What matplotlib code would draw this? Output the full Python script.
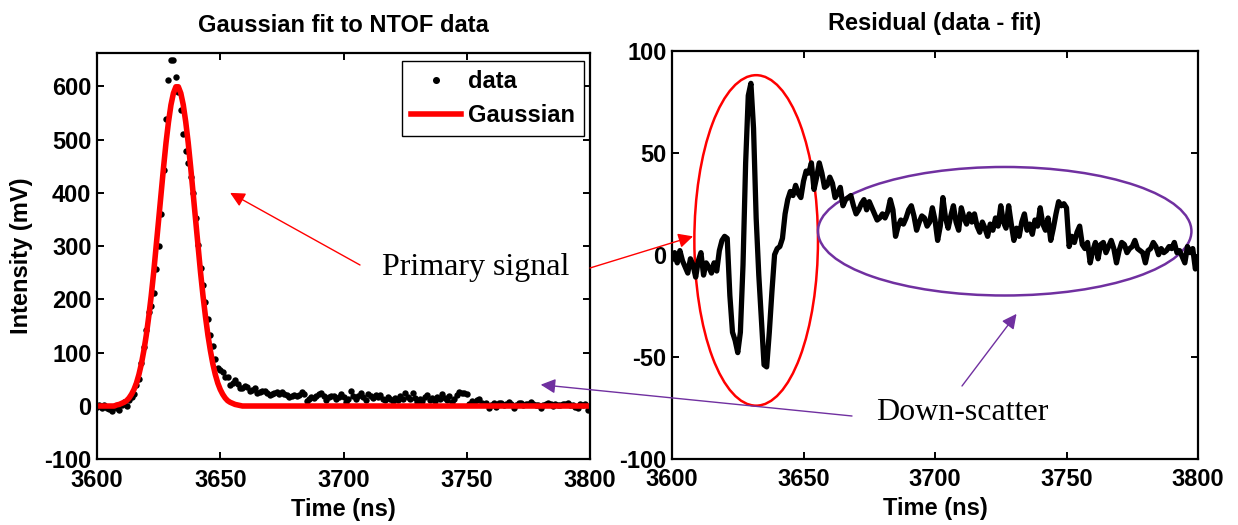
import numpy as np
import matplotlib
matplotlib.use("Agg")
import matplotlib.pyplot as plt
from matplotlib.patches import Ellipse

plt.rcParams['font.family'] = ['Liberation Sans', 'DejaVu Sans']
plt.rcParams['font.weight'] = 'bold'
plt.rcParams['axes.unicode_minus'] = False

# --- data (1 ns steps, 3600..3800 ns) ---
t_start, t_stop = 3600, 3800
time_ns = np.arange(t_start, t_stop + 1)

# Gaussian fit (mV); zero outside 3608..3658
fit_peak = [2, 3, 5, 7, 10, 15, 22, 31, 43, 59, 79, 104, 133, 168, 207, 251,
            299, 349, 399, 448, 494, 533, 565, 587, 599, 599, 587, 565, 533,
            494, 448, 399, 349, 299, 251, 207, 168, 133, 104, 79, 59, 43, 31,
            22, 15, 10, 7, 5, 3, 2, 1]
fit_first = 3608

# residual data - fit (mV)
residual = [
    -2, 1, -4, 2, -3, -6, -9, -2, -5, -11,
    -3, 1, -10, -4, -6, -9, -4, -8, 2, 7,
    9, 8, -20, -38, -42, -48, -38, -5, 45, 78,
    84, 62, 18, -10, -32, -54, -55, -38, -18, 0,
    3, 4, 8, 20, 27, 31, 29, 34, 30, 28,
    36, 41, 40, 45, 32, 38, 45, 40, 33, 34,
    38, 35, 28, 30, 33, 24, 27, 28, 29, 24,
    20, 22, 25, 27, 22, 26, 23, 20, 17, 18,
    20, 18, 21, 27, 22, 9, 14, 17, 15, 18,
    22, 24, 19, 12, 16, 19, 18, 14, 16, 23,
    17, 7, 14, 28, 18, 13, 19, 24, 16, 12,
    23, 18, 15, 20, 16, 20, 14, 11, 16, 13,
    9, 15, 12, 18, 14, 24, 16, 13, 24, 15,
    7, 13, 9, 16, 20, 12, 15, 10, 17, 14,
    23, 15, 12, 18, 7, 13, 20, 26, 24, 25,
    23, 4, 9, 6, 11, 14, 5, 3, 6, -4,
    2, 6, -2, 5, 6, 1, 4, 7, 3, -4,
    2, 6, 5, 1, 3, 4, 7, 3, 2, 1,
    -4, 2, 3, 6, 4, 0, 3, 1, 2, 4,
    3, 6, 1, 2, -1, -4, 4, 1, 3, -7,
    -2,
]

fit = np.zeros(len(time_ns))
fit[fit_first - t_start:fit_first - t_start + len(fit_peak)] = fit_peak
resid = np.array(residual, dtype=float)
data = fit + resid

left_yticks = [-100, 0, 100, 200, 300, 400, 500, 600]
right_yticks = [-100, -50, 0, 50, 100]
xticks = [3600, 3650, 3700, 3750, 3800]

W, H = 1238, 525
fig = plt.figure(figsize=(W / 100, H / 100), dpi=100)
ax1 = fig.add_axes([97 / W, 1 - 459.3 / H, 493 / W, 406.6 / H])
ax2 = fig.add_axes([672 / W, 1 - 458.7 / H, 526 / W, 408 / H])

def style(ax):
    for s in ax.spines.values():
        s.set_linewidth(1.6)
    ax.tick_params(direction='in', top=True, right=True, length=5, width=1.4,
                   labelsize=17)
    ax.tick_params(axis='x', pad=7)
    ax.tick_params(axis='y', pad=4)
    for lab in ax.get_xticklabels() + ax.get_yticklabels():
        lab.set_fontweight('bold')
    ax.set_xlim(t_start, t_stop)
    ax.set_xticks(xticks)

# --- left: data and Gaussian fit ---
ax1.plot(time_ns, data, 'o', color='black', ms=4.6, mew=0, label='data')
ax1.plot(time_ns, fit, color='red', lw=4, label='Gaussian')
ax1.set_ylim(-100, 663)
ax1.set_yticks(left_yticks)
style(ax1)
ax1.set_title('Gaussian fit to NTOF data', fontsize=17, fontweight='bold', pad=15)
ax1.set_xlabel('Time (ns)', fontsize=17, fontweight='bold', labelpad=4)
ax1.set_ylabel('Intensity (mV)', fontsize=17, fontweight='bold', labelpad=8)
leg = ax1.legend(loc='upper right', bbox_to_anchor=(0.988, 0.98), fancybox=False,
                 edgecolor='black', framealpha=1, fontsize=17, handlelength=2.1,
                 borderaxespad=0, handletextpad=0.3, borderpad=0.4,
                 labelspacing=0.45, markerscale=1.1)
leg.get_frame().set_linewidth(1.0)
for txt in leg.get_texts():
    txt.set_fontweight('bold')

# --- right: residual ---
ax2.plot(time_ns, resid, color='black', lw=3.8, solid_joinstyle='round')
ax2.set_ylim(-100, 100)
ax2.set_yticks(right_yticks)
style(ax2)
ax2.set_title('Residual (data - fit)', fontsize=17, fontweight='bold', pad=15)
ax2.set_xlabel('Time (ns)', fontsize=17, fontweight='bold', labelpad=4)

red = '#ff0000'
purple = '#7030a0'
ax2.add_patch(Ellipse((3632, 7), 47, 162, fill=False, edgecolor=red, lw=1.8))
ax2.add_patch(Ellipse((3726.5, 11.5), 142, 63, fill=False, edgecolor=purple, lw=1.8))

# --- annotations ---
serif = ['Liberation Serif', 'DejaVu Serif']
fig.text(476 / W, 1 - 268 / H, 'Primary signal', family=serif, fontweight='normal',
         fontsize=23, ha='center', va='center')
fig.text(962 / W, 1 - 413 / H, 'Down-scatter', family=serif, fontweight='normal',
         fontsize=23, ha='center', va='center')

def arrow(ax_to, xy, tail, color):
    ax2.annotate('', xy=xy, xycoords=ax_to.transData,
                 xytext=(tail[0] / W, 1 - tail[1] / H), textcoords='figure fraction',
                 arrowprops=dict(arrowstyle='-|>', color=color, lw=1.0,
                                 mutation_scale=22, shrinkA=0, shrinkB=0),
                 annotation_clip=False)

arrow(ax1, (3654, 400), (360, 265), red)
arrow(ax2, (3608, 9), (590, 268), red)
arrow(ax1, (3780, 40), (852, 416), purple)
arrow(ax2, (3731, -29), (962, 386), purple)

fig.savefig('out.png', dpi=100)
